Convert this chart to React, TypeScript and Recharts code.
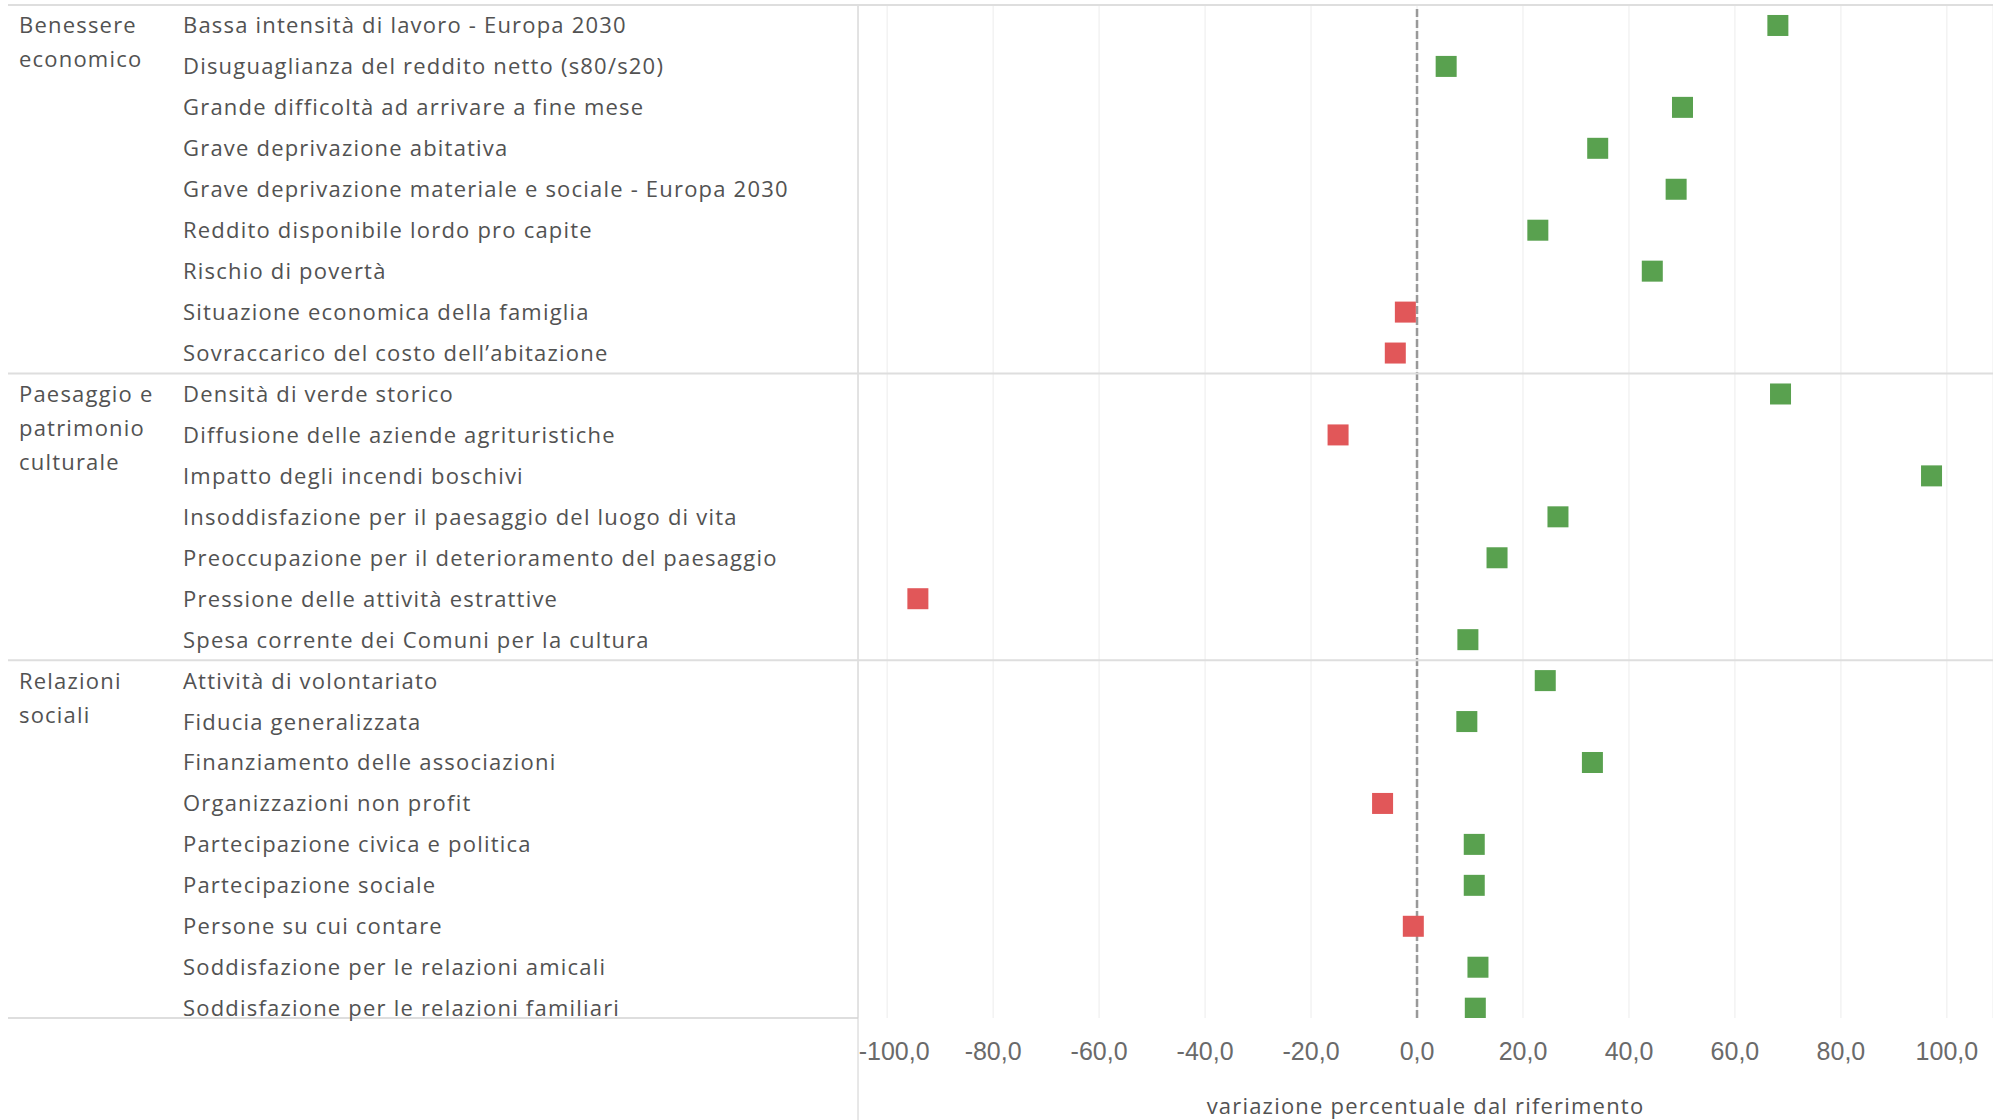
import React from 'react';
import { ScatterChart, Scatter, XAxis, YAxis, CartesianGrid, ReferenceLine } from 'recharts';

const indicators = [
  'Bassa intensità di lavoro - Europa 2030',
  'Disuguaglianza del reddito netto (s80/s20)',
  'Grande difficoltà ad arrivare a fine mese',
  'Grave deprivazione abitativa',
  'Grave deprivazione materiale e sociale - Europa 2030',
  'Reddito disponibile lordo pro capite',
  'Rischio di povertà',
  'Situazione economica della famiglia',
  'Sovraccarico del costo dell\u2019abitazione',
  'Densità di verde storico',
  'Diffusione delle aziende agrituristiche',
  'Impatto degli incendi boschivi',
  'Insoddisfazione per il paesaggio del luogo di vita',
  'Preoccupazione per il deterioramento del paesaggio',
  'Pressione delle attività estrattive',
  'Spesa corrente dei Comuni per la cultura',
  'Attività di volontariato',
  'Fiducia generalizzata',
  'Finanziamento delle associazioni',
  'Organizzazioni non profit',
  'Partecipazione civica e politica',
  'Partecipazione sociale',
  'Persone su cui contare',
  'Soddisfazione per le relazioni amicali',
  'Soddisfazione per le relazioni familiari',
];

// variazione percentuale dal riferimento
const variations = [
  68.1, 5.5, 50.1, 34.1, 48.9, 22.8, 44.4, -2.2, -4.1,
  68.6, -14.9, 97.1, 26.6, 15.1, -94.2, 9.6,
  24.2, 9.4, 33.1, -6.5, 10.8, 10.8, -0.7, 11.5, 11.0,
];

const groupLabels = [
  ['Benessere', 'economico'],
  ['Paesaggio e', 'patrimonio', 'culturale'],
  ['Relazioni', 'sociali'],
];
const groupSizes = [9, 7, 9];

const xTicks = [-100, -80, -60, -40, -20, 0, 20, 40, 60, 80, 100];
const axisTitle = 'variazione percentuale dal riferimento';

const WIDTH = 1993;
const HEIGHT = 1120;
const ROW_H = 40.95;
const GREEN = '#59a14f';
const RED = '#e15759';
const TEXT = '#525252';
const RULE = '#dedede';
const FONT = "'Open Sans', sans-serif";

const data = indicators.map((name, i) => ({ name, row: i + 0.5, value: variations[i] }));
const rowTicks = data.map((d) => d.row);
const groupStarts = groupSizes.map((_, i) => groupSizes.slice(0, i).reduce((a, b) => a + b, 0));

const labelStyle = { fontFamily: FONT, fontSize: 22, letterSpacing: 1.2, fill: TEXT };

function RowTick(props: any) {
  const { y, payload } = props;
  const i = Math.floor(payload.value);
  const g = groupStarts.indexOf(i);
  return (
    <g>
      {g >= 0 && (
        <>
          <line x1={8} x2={WIDTH} y1={y - ROW_H / 2} y2={y - ROW_H / 2} stroke={RULE} strokeWidth={2} />
          <text x={19} y={y + 8} {...labelStyle}>
            {groupLabels[g].map((line, k) => (
              <tspan key={k} x={19} dy={k === 0 ? 0 : 34}>
                {line}
              </tspan>
            ))}
          </text>
        </>
      )}
      <text x={183} y={y + 8} {...labelStyle}>
        {indicators[i]}
      </text>
    </g>
  );
}

function ValueTick(props: any) {
  const { x, y, payload, index } = props;
  // tableau pushes the first label inside the pane
  const shift = index === 0 ? 7 : 0;
  return (
    <text
      x={x + shift}
      y={y + 34}
      textAnchor="middle"
      fontFamily="'Liberation Sans', Arial, sans-serif"
      fontSize={25}
      fill="#6a6a6a"
    >
      {payload.value.toFixed(1).replace('.', ',')}
    </text>
  );
}

function AxisTitle(props: any) {
  const { x, y, width, height } = props.viewBox;
  return (
    <g>
      <line x1={8} x2={x} y1={y} y2={y} stroke={RULE} strokeWidth={2} />
      <line x1={x} x2={x} y1={y} y2={y + height} stroke="#d0d0d0" />
      <text x={x + width / 2} y={y + 96} textAnchor="middle" {...labelStyle}>
        {axisTitle}
      </text>
    </g>
  );
}

function Square(props: any) {
  const { cx, cy, payload } = props;
  return (
    <rect
      x={cx - 10.5}
      y={cy - 10.5}
      width={21}
      height={21}
      fill={payload.value >= 0 ? GREEN : RED}
    />
  );
}

export default function App() {
  return (
    <div style={{ position: 'absolute', left: 0, top: 0, width: WIDTH, height: HEIGHT, background: '#fff' }}>
      <ScatterChart width={WIDTH} height={HEIGHT} margin={{ top: 5, right: 0, bottom: 0, left: 0 }}>
        <CartesianGrid horizontal={false} stroke="#ececec" />
        <XAxis
          type="number"
          dataKey="value"
          domain={[-105.5, 108.7]}
          allowDataOverflow
          ticks={xTicks}
          interval={0}
          height={102}
          axisLine={false}
          tickLine={false}
          tick={<ValueTick />}
          label={{ content: <AxisTitle /> }}
        />
        <YAxis
          type="number"
          dataKey="row"
          domain={[0, 24.74]}
          allowDataOverflow
          reversed
          ticks={rowTicks}
          interval={0}
          width={858}
          axisLine={{ stroke: '#d0d0d0' }}
          tickLine={false}
          tick={<RowTick />}
        />
        <ReferenceLine x={0} stroke="#999999" strokeWidth={2.5} strokeDasharray="8 3" />
        <Scatter data={data} shape={<Square />} isAnimationActive={false} />
      </ScatterChart>
    </div>
  );
}
